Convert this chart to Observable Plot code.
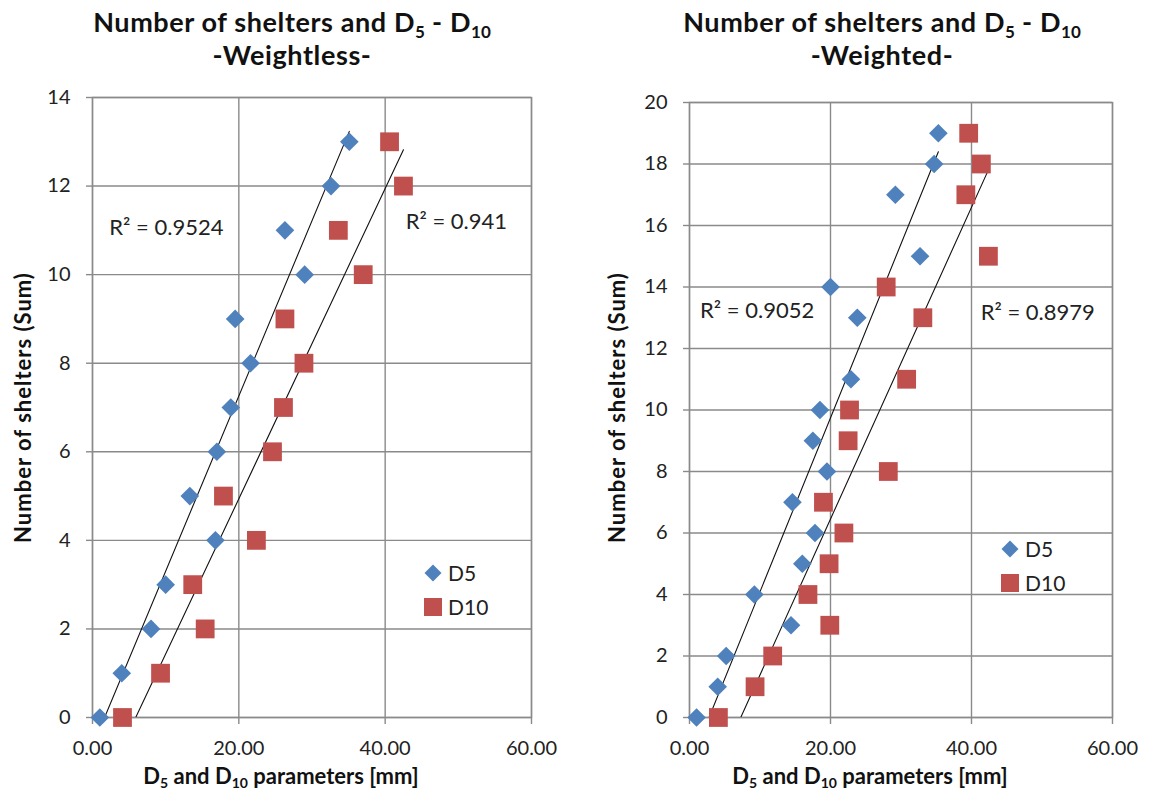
<!DOCTYPE html>
<html>
<head>
<meta charset="utf-8">
<script src="https://cdn.jsdelivr.net/npm/d3@7"></script>
<script src="https://cdn.jsdelivr.net/npm/@observablehq/plot@0.6"></script>
<style>
  html, body { margin: 0; padding: 0; background: #fff; }
  #wrap { position: relative; width: 1152px; height: 798px; background: #fff; font-family: Lato, "Open Sans", sans-serif; color: #111; overflow: hidden; }
  .panel { position: absolute; top: 0; width: 576px; height: 798px; }
  .panel svg { position: absolute; left: 0; top: 0; }
  .title { position: absolute; top: 5px; width: 576px; text-align: center; font-weight: 700; font-size: 27px; letter-spacing: 0.6px; line-height: 33px; color: #111; }
  .title sub { font-size: 17px; vertical-align: -6px; line-height: 0; letter-spacing: 0; }
  .xlab { position: absolute; top: 762px; width: 400px; text-align: center; font-weight: 700; font-size: 22px; color: #111; }
  .xlab sub { font-size: 14px; vertical-align: -4px; line-height: 0; }
  .ylab { position: absolute; width: 340px; text-align: center; font-weight: 700; font-size: 22px; letter-spacing: 1px; color: #111; transform: rotate(-90deg); transform-origin: center center; }
  .legend { position: absolute; font-size: 21px; color: #222; }
  .legend .row { position: relative; height: 34px; line-height: 34px; padding-left: 24px; }
  .legend .dia { position: absolute; left: 3px; top: 11px; width: 12px; height: 12px; background: #4F81BD; transform: rotate(45deg); }
  .legend .sq { position: absolute; left: 0px; top: 8px; width: 18px; height: 18px; background: #C0504D; }
</style>
</head>
<body>
<div id="wrap">
  <div class="panel" id="left" style="left:0px">
    <div class="title" style="left:4px">Number of shelters and D<sub>5</sub> - D<sub>10</sub><br>-Weightless-</div>
    <div class="ylab" style="left:-148px; top:394px">Number of shelters (Sum)</div>
    <div class="xlab" style="left:81px">D<sub>5</sub> and D<sub>10</sub> parameters [mm]</div>
    <div class="legend" style="left:424px; top:556px"><div class="row"><span class="dia"></span>D5</div><div class="row"><span class="sq"></span>D10</div></div>
  </div>
  <div class="panel" id="right" style="left:576px">
    <div class="title" style="left:18px">Number of shelters and D<sub>5</sub> - D<sub>10</sub><br>-Weighted-</div>
    <div class="ylab" style="left:-130px; top:394px">Number of shelters (Sum)</div>
    <div class="xlab" style="left:94px">D<sub>5</sub> and D<sub>10</sub> parameters [mm]</div>
    <div class="legend" style="left:425px; top:532px"><div class="row"><span class="dia"></span>D5</div><div class="row"><span class="sq"></span>D10</div></div>
  </div>
</div>
<script>
// ---- Data ----
const sheltersWeightless = [0, 1, 2, 3, 4, 5, 6, 7, 8, 9, 10, 11, 12, 13];
const d5Weightless  = [1.0, 4.0, 8.0, 10.0, 16.8, 13.3, 17.0, 18.9, 21.6, 19.5, 29.0, 26.3, 32.6, 35.1];
const d10Weightless = [4.1, 9.3, 15.4, 13.7, 22.4, 17.9, 24.6, 26.1, 28.9, 26.3, 37.0, 33.6, 42.5, 40.6];

const sheltersWeighted = [0, 1, 2, 3, 4, 5, 6, 7, 8, 9, 10, 11, 13, 14, 15, 17, 18, 19];
const d5Weighted  = [1.0, 4.0, 5.2, 14.4, 9.2, 16.0, 17.8, 14.6, 19.5, 17.5, 18.5, 22.9, 23.8, 20.0, 32.7, 29.2, 34.7, 35.3];
const d10Weighted = [4.1, 9.3, 11.8, 19.9, 16.8, 19.8, 21.9, 19.0, 28.2, 22.5, 22.7, 30.8, 33.1, 27.9, 42.4, 39.2, 41.4, 39.6];

const r2Weightless = [{x: 2.3, y: 11.05, text: "R² = 0.9524"}, {x: 42.8, y: 11.2, text: "R² = 0.941"}];
const r2Weighted   = [{x: 1.5, y: 13.23, text: "R² = 0.9052"}, {x: 41.3, y: 13.17, text: "R² = 0.8979"}];

const xTicks = [0, 20, 40, 60];
const yTicksWeightless = [0, 2, 4, 6, 8, 10, 12, 14];
const yTicksWeighted = [0, 2, 4, 6, 8, 10, 12, 14, 16, 18, 20];

const blue = "#4F81BD", red = "#C0504D", grid = "#8a8a8a";

function panel({shelters, d5, d10, r2, yDomain, yTicks, margins}) {
  const a = shelters.map((s, i) => ({x: d5[i], y: s}));
  const b = shelters.map((s, i) => ({x: d10[i], y: s}));
  return Plot.plot({
    width: 576, height: 798,
    ...margins,
    style: {fontFamily: "Lato, 'Open Sans', sans-serif", fontSize: "20px", background: "transparent", color: "#222"},
    x: {domain: [0, 60]},
    y: {domain: yDomain},
    marks: [
      Plot.gridX(xTicks, {stroke: grid, strokeOpacity: 1, strokeWidth: 1.4}),
      Plot.gridY(yTicks, {stroke: grid, strokeOpacity: 1, strokeWidth: 1.4}),
      Plot.frame({stroke: grid, strokeWidth: 1.4}),
      Plot.axisX({ticks: xTicks, tickFormat: d3.format(".2f"), tickSize: 7, tickPadding: 16, stroke: grid, strokeWidth: 1.4, fill: "#222", label: null}),
      Plot.axisY({ticks: yTicks, tickSize: 6, tickPadding: 16, stroke: grid, strokeWidth: 1.4, fill: "#222", label: null}),
      Plot.linearRegressionY(a, {x: "x", y: "y", stroke: "#111", strokeWidth: 1.1, ci: 0, clip: true}),
      Plot.linearRegressionY(b, {x: "x", y: "y", stroke: "#111", strokeWidth: 1.1, ci: 0, clip: true}),
      Plot.dot(a, {x: "x", y: "y", symbol: "diamond2", fill: blue, r: 8.4}),
      Plot.dot(b, {x: "x", y: "y", symbol: "square", fill: red, r: 10.6}),
      Plot.text(r2, {x: "x", y: "y", text: "text", textAnchor: "start", fontSize: 22, fill: "#222", style: "letter-spacing:1.4px"})
    ]
  });
}

document.getElementById("left").prepend(panel({
  shelters: sheltersWeightless, d5: d5Weightless, d10: d10Weightless, r2: r2Weightless,
  yDomain: [0, 14], yTicks: yTicksWeightless,
  margins: {marginLeft: 92, marginRight: 45, marginTop: 97, marginBottom: 81}
}));
document.getElementById("right").prepend(panel({
  shelters: sheltersWeighted, d5: d5Weighted, d10: d10Weighted, r2: r2Weighted,
  yDomain: [0, 20], yTicks: yTicksWeighted,
  margins: {marginLeft: 113, marginRight: 40, marginTop: 102, marginBottom: 81}
}));
</script>
</body>
</html>
